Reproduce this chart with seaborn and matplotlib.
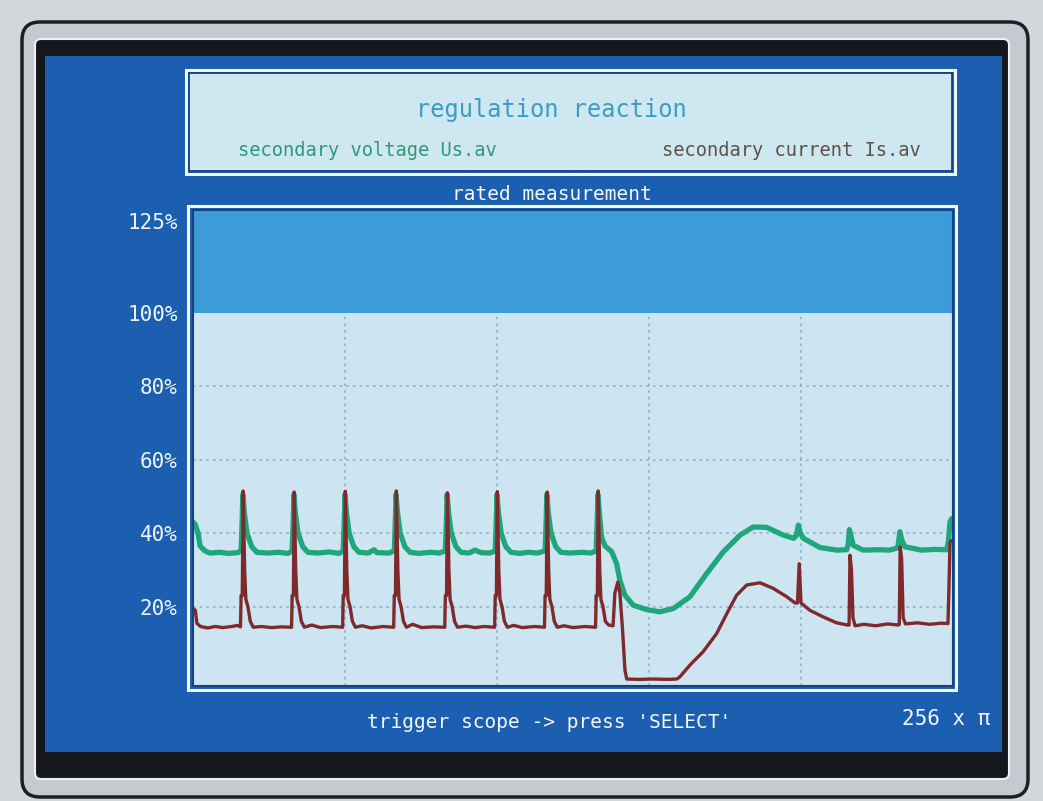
import numpy as np
import pandas as pd
import matplotlib.pyplot as plt
import seaborn as sns
from matplotlib.patches import Rectangle, FancyBboxPatch

# time axis: 256 screen samples, values in % of rated
red_t = [0.0, 0.8, 1.3, 2.5, 5.0, 7.5, 10.0, 13.0, 15.0, 16.0,
         16.2, 16.6, 16.9, 17.4, 17.8, 18.5, 19.3, 20.3,
         23.0, 26.5, 30.0, 33.2,
         33.4, 33.8, 34.1, 34.6, 35.0, 35.7, 36.5, 37.5,
         40.0, 43.0, 47.0, 50.4,
         50.6, 51.0, 51.3, 51.8, 52.2, 52.9, 53.7, 54.7,
         57.0, 60.0, 64.0, 67.6,
         67.8, 68.2, 68.5, 69.0, 69.4, 70.1, 70.9, 71.9,
         74.0, 77.0, 81.0, 84.8,
         85.0, 85.4, 85.7, 86.2, 86.6, 87.3, 88.1, 89.1,
         92.0, 95.0, 98.0, 101.6,
         101.8, 102.2, 102.5, 103.0, 103.4, 104.1, 104.9, 105.9,
         108.0, 111.0, 115.0, 118.4,
         118.6, 119.0, 119.3, 119.8, 120.2, 120.9, 121.7, 122.7,
         125.0, 128.0, 132.0, 135.6,
         135.8, 136.2, 136.5, 137.0, 137.4, 138.1, 138.9, 140.0,
         141.5, 142.1, 143.1, 143.8, 144.7, 145.5, 146.1,
         150.0, 155.0, 160.0, 163.0,
         164.0, 167.4, 171.8, 176.4, 179.8, 183.1, 186.5, 191.0, 195.4, 200.0, 202.8, 203.6,
         204.2, 204.8, 207.8, 212.3, 216.8, 220.4, 221.0,
         221.3, 221.8, 222.3, 223.0,
         226.0, 230.0, 234.0, 237.6,
         237.9, 238.2, 238.7, 239.2, 240.0,
         244.0, 248.0, 252.0, 254.3, 254.6, 255.0, 255.6]
red_v = [19.5, 19.0, 15.5, 14.6, 14.2, 14.6, 14.3, 14.6, 14.9, 14.5,
         23.0, 23.0, 51.5, 30.0, 22.0, 20.0, 16.0, 14.4,
         14.6, 14.3, 14.5, 14.4,
         23.0, 23.0, 51.2, 30.0, 22.0, 20.0, 16.0, 14.4,
         15.0, 14.3, 14.6, 14.4,
         23.0, 23.0, 51.4, 30.0, 22.0, 20.0, 16.0, 14.4,
         14.8, 14.2, 14.6, 14.4,
         23.0, 23.0, 51.5, 30.0, 22.0, 20.0, 16.0, 14.4,
         15.2, 14.3, 14.5, 14.4,
         23.0, 23.0, 51.0, 30.0, 22.0, 20.0, 16.0, 14.4,
         14.7, 14.3, 14.6, 14.4,
         23.0, 23.0, 51.3, 30.0, 22.0, 20.0, 16.0, 14.4,
         14.9, 14.3, 14.6, 14.4,
         23.0, 23.0, 51.2, 30.0, 22.0, 20.0, 16.0, 14.4,
         14.8, 14.3, 14.6, 14.4,
         23.0, 23.0, 51.5, 30.0, 22.0, 20.0, 16.0, 15.0,
         14.8, 23.7, 26.7, 23.7, 13.6, 2.7, 0.3,
         0.2, 0.3, 0.2, 0.3,
         0.9, 4.1, 7.7, 12.7, 18.1, 23.1, 25.9, 26.5, 25.0, 22.7, 21.0, 21.0,
         31.7, 21.0, 19.0, 17.2, 15.6, 15.0, 15.0,
         34.0, 30.0, 17.0, 14.8,
         15.2, 14.8, 15.3, 15.0,
         15.2, 36.3, 33.0, 17.0, 15.3,
         15.6, 15.2, 15.5, 15.4, 24.0, 37.6, 38.0]

green_t = [0.0, 0.7, 1.7, 2.4, 4.0, 5.7, 9.0, 12.0, 15.0, 16.2,
           16.5, 16.8, 17.3, 18.2, 19.8, 21.5,
           25.0, 29.0, 32.0, 33.4,
           33.7, 34.0, 34.5, 35.4, 37.0, 38.7,
           42.0, 46.0, 49.2, 50.6,
           50.9, 51.2, 51.7, 52.6, 54.2, 55.9,
           59.0, 61.0, 62.0, 66.0, 67.8,
           68.1, 68.4, 68.9, 69.8, 71.4, 73.1,
           76.0, 80.0, 83.0, 85.0,
           85.3, 85.6, 86.1, 87.0, 88.6, 90.3,
           93.0, 95.0, 97.0, 100.0, 101.8,
           102.1, 102.4, 102.9, 103.8, 105.4, 107.1,
           110.0, 113.0, 116.0, 118.6,
           118.9, 119.2, 119.7, 120.6, 122.2, 123.9,
           127.0, 131.0, 134.0, 135.8,
           136.1, 136.4, 136.9, 137.6, 138.8, 141.0, 142.7, 143.8, 145.5, 148.3, 152.8, 157.3,
           161.8, 167.4, 173.0, 178.6, 184.3, 188.7, 193.2, 198.8, 202.4, 203.3, 203.9, 204.6, 205.6,
           211.2, 216.8, 220.2, 220.7, 221.1, 221.7, 222.4, 225.7, 231.0, 234.6, 237.4, 238.1, 238.8, 239.8,
           245.4, 250.0, 253.9, 254.5, 255.0, 255.6]
green_v = [43.0, 42.5, 40.0, 36.5, 35.2, 34.6, 34.8, 34.5, 34.7, 35.2,
           42.0, 50.5, 45.5, 40.0, 36.3, 34.8,
           34.6, 34.8, 34.5, 35.2,
           42.0, 50.5, 45.5, 40.0, 36.3, 34.8,
           34.6, 34.9, 34.5, 35.2,
           42.0, 50.5, 45.5, 40.0, 36.3, 34.8,
           34.6, 35.5, 34.7, 34.6, 35.2,
           42.0, 50.5, 45.5, 40.0, 36.3, 34.8,
           34.5, 34.8, 34.6, 35.2,
           42.0, 50.5, 45.5, 40.0, 36.3, 34.8,
           34.6, 35.4, 34.7, 34.6, 35.2,
           42.0, 50.5, 45.5, 40.0, 36.3, 34.8,
           34.5, 34.8, 34.6, 35.2,
           42.0, 50.5, 45.5, 40.0, 36.3, 34.8,
           34.6, 34.8, 34.6, 35.2,
           42.0, 50.5, 45.5, 39.0, 36.5, 35.0, 31.7, 27.2, 23.1, 20.4, 19.2, 18.6,
           19.5, 22.7, 29.0, 34.9, 39.5, 41.7, 41.6, 39.5, 38.6, 39.5, 42.2, 40.0, 38.6,
           36.1, 35.4, 35.5, 37.0, 41.0, 39.0, 36.7, 35.4, 35.5, 35.4, 36.0, 40.4, 38.0, 36.3,
           35.4, 35.6, 35.5, 38.0, 43.1, 44.0]

y_ticks = [20, 40, 60, 80, 100, 125]
y_labels = ["20%", "40%", "60%", "80%", "100%", "125%"]
grid_y = [20, 40, 60, 80]
grid_x = [51.2, 102.4, 153.6, 204.8]

MONO = "DejaVu Sans Mono"
SCREEN = "#1c5fb0"

sns.set_theme(style="white")
plt.rcParams["font.family"] = [MONO, "DejaVu Sans"]

fig = plt.figure(figsize=(10.43, 8.01), dpi=100, facecolor="#d3d6da")

# monitor / screen decoration in pixel coordinates
bg = fig.add_axes([0, 0, 1, 1])
bg.set_xlim(0, 1043)
bg.set_ylim(801, 0)
bg.axis("off")
bg.add_patch(FancyBboxPatch((22, 22), 1006, 775, boxstyle="round,pad=0,rounding_size=18",
                            facecolor="#c5cad0", edgecolor="#1e1e22", lw=2.5))
bg.add_patch(FancyBboxPatch((35, 39), 974, 740, boxstyle="round,pad=0,rounding_size=6",
                            facecolor="#16171d", edgecolor="#eef0f2", lw=1.5))
bg.add_patch(Rectangle((45, 56), 957, 696, facecolor=SCREEN, edgecolor="none"))

# header box
bg.add_patch(Rectangle((186, 70), 769, 104, facecolor="none", edgecolor="#f2f7f9", lw=2.2))
bg.add_patch(Rectangle((189, 73), 763, 98, facecolor="#cfe7f1", edgecolor="#17407c", lw=1.3))
bg.text(551, 110, "regulation reaction", ha="center", va="center",
        color="#3b9dc3", fontsize=17, family=MONO)
bg.text(238, 151, "secondary voltage Us.av", ha="left", va="center",
        color="#2c9a77", fontsize=13.5, family=MONO)
bg.text(921, 151, "secondary current Is.av", ha="right", va="center",
        color="#5d5247", fontsize=13.5, family=MONO)
bg.text(552, 195, "rated measurement", ha="center", va="center",
        color="#f4f8fa", fontsize=14, family=MONO)
bg.text(549, 722, "trigger scope -> press 'SELECT'", ha="center", va="center",
        color="#f4f8fa", fontsize=14, family=MONO)
bg.text(990, 719, "256 x \u03c0", ha="right", va="center",
        color="#f4f8fa", fontsize=15, family=MONO)

# white outer frame of the plot
bg.add_patch(Rectangle((188, 206), 768, 484, facecolor="none", edgecolor="#f2f7f9", lw=2.2))

# measurement plot
ax = fig.add_axes([193 / 1043, 1 - 686 / 801, 760 / 1043, 476 / 801])
ax.set_facecolor("#cde5f0")
ax.set_xlim(0, 256)
ax.set_ylim(-1.6, 128)
ax.axhspan(100, 128, color="#3c9cd9", lw=0)
ax.hlines(grid_y, 0, 256, colors="#82b2cf", linestyles=(0, (1.5, 2.5)), lw=1.2)
ax.vlines(grid_x, -1.6, 100, colors="#82b2cf", linestyles=(0, (1.5, 2.5)), lw=1.2)

voltage = pd.DataFrame({"t": green_t, "v": green_v})
current = pd.DataFrame({"t": red_t, "v": red_v})
sns.lineplot(data=voltage, x="t", y="v", ax=ax, color="#1fa77b", lw=3.8,
             estimator=None, sort=False)
sns.lineplot(data=current, x="t", y="v", ax=ax, color="#7e2a2c", lw=2.4,
             estimator=None, sort=False)

ax.set_xlabel("")
ax.set_ylabel("")
ax.set_xticks([])
ax.set_yticks(y_ticks)
ax.set_yticklabels(y_labels, color="#eef4f7", fontsize=15, family=MONO)
ax.tick_params(axis="y", length=0, pad=11)
for sp in ax.spines.values():
    sp.set_color("#17407c")
    sp.set_linewidth(1.5)

fig.savefig("out.png", dpi=100, facecolor=fig.get_facecolor())
